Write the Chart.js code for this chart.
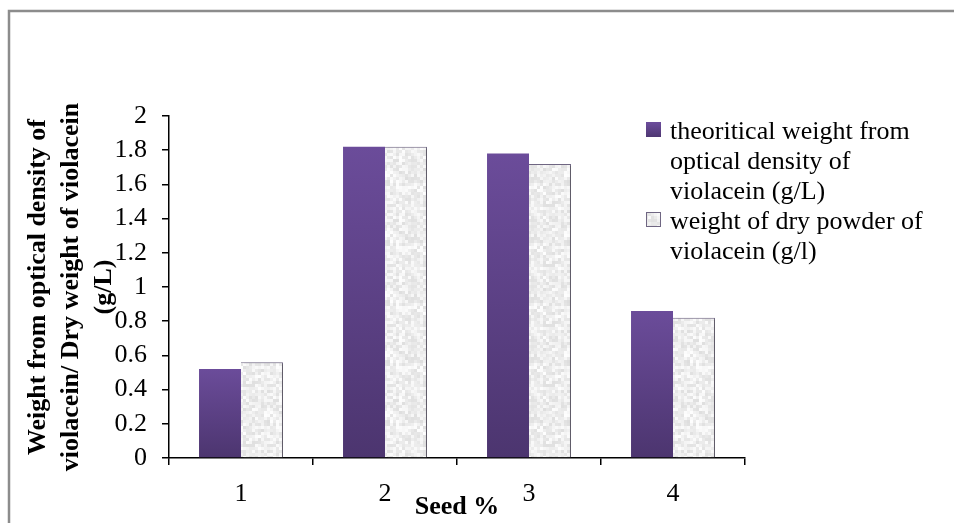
<!DOCTYPE html>
<html>
<head>
<meta charset="utf-8">
<script src="https://cdn.jsdelivr.net/npm/chart.js@4/dist/chart.umd.min.js"></script>
<style>
  html, body { margin: 0; padding: 0; background: #fff; }
  #wrap { width: 954px; height: 523px; position: relative; }
</style>
</head>
<body>
<div id="wrap"><canvas id="chart" width="954" height="523"></canvas></div>
<script>
// data
var categories = ['1', '2', '3', '4'];
var theoretical = [0.52, 1.82, 1.78, 0.86];
var dryPowder = [0.56, 1.82, 1.72, 0.82];
var seriesNames = ['theoritical weight from optical density of violacein (g/L)',
                   'weight of dry powder of violacein (g/l)'];
var legendLines = [['theoritical weight from', 'optical density of', 'violacein (g/L)'],
                   ['weight of dry powder of', 'violacein (g/l)']];
var yTitle = ['Weight from optical density of', 'violacein/ Dry weight of violacein', '(g/L)'];
var xTitle = 'Seed %';

var FONT = "'Liberation Serif', 'Times New Roman', serif";

// light mottled fill, like the office "paper" texture
function makeSpeckle() {
  var c = document.createElement('canvas');
  c.width = 60; c.height = 60;
  var g = c.getContext('2d');
  g.fillStyle = '#f3f3f3';
  g.fillRect(0, 0, 60, 60);
  for (var y = 0; y < 60; y += 3) {
    for (var x = 0; x < 60; x += 3) {
      var h = Math.sin(x * 12.9898 + y * 78.233) * 43758.5453;
      h = h - Math.floor(h);
      var v = Math.round(222 + h * 32);
      g.fillStyle = 'rgb(' + v + ',' + v + ',' + v + ')';
      g.fillRect(x, y, 3, 3);
    }
  }
  return g.createPattern(c, 'repeat');
}
var speckle = makeSpeckle();

function purpleFill(ctx) {
  var chart = ctx.chart;
  var ys = chart.scales && chart.scales.y;
  if (!ys || ctx.type !== 'data' || !chart.chartArea) return '#5e4387';
  var top = ys.getPixelForValue(ctx.raw);
  var bot = ys.getPixelForValue(0);
  if (!isFinite(top) || !isFinite(bot) || top === bot) return '#5e4387';
  var gr = chart.ctx.createLinearGradient(0, top, 0, bot);
  gr.addColorStop(0, '#6b4c9a');
  gr.addColorStop(1, '#4c356f');
  return gr;
}

function purpleLegend(c, y) {
  var gr = c.createLinearGradient(0, y - 9, 0, y + 6);
  gr.addColorStop(0, '#6b4c9a');
  gr.addColorStop(1, '#4c356f');
  return gr;
}

var pagePlugin = {
  id: 'page',
  beforeDraw: function(chart) {
    var c = chart.ctx;
    c.save();
    c.fillStyle = '#fff';
    c.fillRect(0, 0, chart.width, chart.height);
    c.strokeStyle = '#8c8c8c';
    c.lineWidth = 2.5;
    c.beginPath();
    c.moveTo(9, chart.height);
    c.lineTo(9, 11);
    c.lineTo(chart.width, 11);
    c.stroke();
    c.restore();
  },
  beforeDatasetDraw: function(chart, args) {
    if (args.index === 1) {
      var c = chart.ctx;
      c.save();
      c.shadowColor = 'rgba(80,80,80,0.55)';
      c.shadowOffsetX = 3;
      c.shadowOffsetY = 1;
      c.shadowBlur = 1;
    }
  },
  afterDatasetDraw: function(chart, args) {
    if (args.index === 1) chart.ctx.restore();
  },
  afterDraw: function(chart) {
    var c = chart.ctx;
    c.save();
    c.font = '26px ' + FONT;
    c.textBaseline = 'middle';
    var y = 132;
    legendLines.forEach(function(lines, i) {
      c.fillStyle = i === 0 ? purpleLegend(c, y) : speckle;
      c.fillRect(646, y - 10, 15, 15);
      if (i === 1) {
        c.strokeStyle = '#6f6682';
        c.lineWidth = 1;
        c.strokeRect(646.5, y - 9.5, 14, 14);
      }
      c.fillStyle = '#000';
      lines.forEach(function(t) {
        c.fillText(t, 670, y);
        y += 30;
      });
    });
    c.restore();
  }
};

new Chart(document.getElementById('chart'), {
  type: 'bar',
  data: {
    labels: categories,
    datasets: [{
      label: seriesNames[0],
      data: theoretical,
      backgroundColor: purpleFill,
      borderWidth: 0,
      categoryPercentage: 0.583,
      barPercentage: 1.0
    }, {
      label: seriesNames[1],
      data: dryPowder,
      backgroundColor: speckle,
      borderColor: '#6f6682',
      borderWidth: { top: 1, right: 1, left: 0, bottom: 0 },
      categoryPercentage: 0.583,
      barPercentage: 1.0
    }]
  },
  options: {
    responsive: false,
    animation: false,
    devicePixelRatio: 1,
    layout: { padding: { top: 116, left: 0, right: 209, bottom: 0 } },
    plugins: {
      legend: { display: false },
      tooltip: { enabled: false }
    },
    scales: {
      x: {
        grid: { offset: true, drawOnChartArea: false, drawTicks: true, tickLength: 7, color: '#000', lineWidth: 1.5 },
        border: { color: '#000', width: 1.5 },
        ticks: { color: '#000', padding: 14, font: { family: FONT, size: 26 } },
        title: { display: true, text: xTitle, color: '#000', padding: { top: 0, bottom: 0 },
                 font: { family: FONT, size: 26, weight: 'bold', lineHeight: 1.2 } },
        afterFit: function(s) { s.height = 65; }
      },
      y: {
        min: 0,
        max: 2,
        grid: { drawOnChartArea: false, drawTicks: true, tickLength: 7, color: '#000', lineWidth: 1.5 },
        border: { color: '#000', width: 1.5 },
        ticks: {
          stepSize: 0.2,
          color: '#000',
          padding: 15,
          font: { family: FONT, size: 26 },
          callback: function(v) { return String(Number(v.toFixed(1))); }
        },
        title: { display: true, text: yTitle, color: '#000', padding: { top: 22, bottom: 0 },
                 font: { family: FONT, size: 26, weight: 'bold', lineHeight: 1.27 } },
        afterFit: function(s) { s.width = 169; }
      }
    }
  },
  plugins: [pagePlugin]
});
</script>
</body>
</html>
